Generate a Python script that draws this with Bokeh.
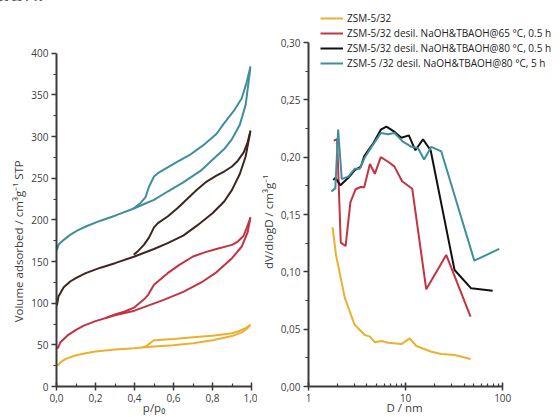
from bokeh.plotting import figure
from bokeh.layouts import row
from bokeh.models import (Range1d, FixedTicker, LogTicker, CustomJSTickFormatter,
                          Legend, LegendItem, Div)
from bokeh.embed import file_html
from bokeh.resources import INLINE

# ---------------- data: isotherms (left) ----------------
y_ads_p = [0.005, 0.02, 0.05, 0.10, 0.15, 0.20, 0.30, 0.40, 0.45, 0.50, 0.60, 0.70, 0.80, 0.90, 0.95, 0.98, 0.995]
y_ads_v = [25, 29, 33.5, 37.5, 40, 42, 44.5, 46, 47, 48, 49.5, 52, 55.5, 60.5, 65, 70, 74]
y_des_p = [0.995, 0.97, 0.93, 0.90, 0.80, 0.70, 0.60, 0.50, 0.46, 0.44]
y_des_v = [74, 70, 66, 64, 61, 59, 57, 55.5, 48.5, 47]

r_ads_p = [0.005, 0.02, 0.055, 0.10, 0.14, 0.20, 0.30, 0.40, 0.48, 0.55, 0.65, 0.75, 0.82, 0.90, 0.95, 0.98, 0.995]
r_ads_v = [45.5, 53, 61, 68, 73, 78.5, 85.5, 91, 98, 104, 113.5, 126, 137, 154, 168, 185, 203]
r_des_p = [0.995, 0.98, 0.96, 0.93, 0.90, 0.82, 0.76, 0.70, 0.63, 0.57, 0.50, 0.47, 0.455, 0.40, 0.35, 0.30, 0.25]
r_des_v = [203, 193, 181, 174, 170, 165, 161, 156, 146, 136, 122, 110, 106, 95, 90, 86.5, 82]

b_ads_p = [0.002, 0.01, 0.037, 0.07, 0.106, 0.15, 0.226, 0.30, 0.40, 0.50, 0.57, 0.65, 0.72, 0.80, 0.86, 0.90, 0.94, 0.97, 0.995]
b_ads_v = [97, 108, 119, 126, 131, 136, 142.6, 148, 156, 165, 172, 181, 193, 208, 222, 236, 255, 276, 307]
b_des_p = [0.995, 0.98, 0.96, 0.93, 0.90, 0.86, 0.82, 0.77, 0.72, 0.67, 0.62, 0.57, 0.52, 0.50, 0.475, 0.448, 0.42, 0.396]
b_des_v = [307, 293, 281, 271, 264, 258, 253, 246, 236, 225, 214, 204, 196, 191, 179, 170, 163, 158]

t_ads_p = [0.002, 0.01, 0.037, 0.07, 0.106, 0.15, 0.226, 0.30, 0.39, 0.45, 0.50, 0.57, 0.65, 0.74, 0.80, 0.86, 0.90, 0.94, 0.97, 0.995]
t_ads_v = [164, 170, 176, 182, 187, 192, 199, 205, 213, 219, 224, 234, 245, 259, 272, 285, 297, 314, 338, 384]
t_des_p = [0.995, 0.975, 0.95, 0.91, 0.86, 0.82, 0.75, 0.69, 0.63, 0.57, 0.52, 0.50, 0.475, 0.456, 0.43, 0.396]
t_des_v = [384, 365, 346, 331, 316, 303, 289, 279, 271, 263, 256, 252, 240, 227, 220, 214]

# ---------------- data: pore size distributions (right) ----------------
y_D = [1.77, 1.92, 2.37, 2.89, 3.0, 3.81, 4.29, 4.82, 5.65, 6.6, 9.06, 11.0, 12.9, 18.4, 23.3, 31.9, 46.6]
y_dv = [0.1388, 0.1147, 0.077, 0.057, 0.0536, 0.0449, 0.0435, 0.0385, 0.0397, 0.0382, 0.037, 0.042, 0.0353, 0.0303, 0.0283, 0.0275, 0.024]

r_D = [1.82, 1.97, 2.15, 2.41, 2.70, 3.05, 3.45, 3.75, 4.29, 4.82, 5.55, 6.6, 7.65, 9.2, 11.7, 16.3, 26.2, 46.6]
r_dv = [0.2144, 0.2156, 0.1255, 0.1225, 0.1605, 0.172, 0.174, 0.1737, 0.194, 0.1855, 0.200, 0.196, 0.192, 0.179, 0.1725, 0.0848, 0.1147, 0.061]

b_D = [1.80, 1.89, 2.13, 2.57, 3.0, 3.46, 3.75, 4.64, 5.55, 6.35, 7.7, 9.05, 10.8, 12.6, 15.1, 18.1, 31.9, 47.3, 78.8]
b_dv = [0.180, 0.182, 0.1755, 0.182, 0.1888, 0.1917, 0.201, 0.212, 0.224, 0.2266, 0.222, 0.217, 0.219, 0.206, 0.2155, 0.206, 0.1016, 0.0856, 0.0836]

t_D = [1.72, 1.89, 2.02, 2.20, 2.57, 3.0, 3.38, 3.81, 4.46, 5.55, 6.6, 7.7, 9.4, 11.5, 13.4, 15.5, 18.4, 23.3, 51, 92]
t_dv = [0.170, 0.173, 0.224, 0.181, 0.183, 0.190, 0.190, 0.200, 0.209, 0.221, 0.220, 0.221, 0.2135, 0.209, 0.208, 0.198, 0.209, 0.205, 0.1097, 0.120]

labels = ["ZSM-5/32",
          "ZSM-5/32 desil. NaOH&TBAOH@65 \u00b0C, 0.5 h",
          "ZSM-5/32 desil. NaOH&TBAOH@80 \u00b0C, 0.5 h",
          "ZSM-5 /32 desil. NaOH&TBAOH@80 \u00b0C, 5 h"]

p_ticks = [0.0, 0.2, 0.4, 0.6, 0.8, 1.0]
p_minor = [0.1, 0.3, 0.5, 0.7, 0.9]
v_ticks = [0, 50, 100, 150, 200, 250, 300, 350, 400]
v_minor = [25, 75, 125, 175, 225, 275, 325, 375]
dv_ticks = [0.0, 0.05, 0.10, 0.15, 0.20, 0.25, 0.30]
dv_minor = [0.025, 0.075, 0.125, 0.175, 0.225, 0.275]

YEL = "#EBB02E"
RED = "#C23441"
BRN = "#3D2622"
BLK = "#111111"
TEAL = "#3F8E9D"
AX = "#3a3a3a"
FONT = "Open Sans"
NB = "\u00a0"


def style_axes(p):
    for ax in (p.xaxis[0], p.yaxis[0]):
        ax.axis_line_width = 2
        ax.axis_line_color = AX
        ax.major_tick_line_color = AX
        ax.minor_tick_line_color = AX
        ax.major_tick_line_width = 1.5
        ax.minor_tick_line_width = 1.2
        ax.major_label_text_font = FONT
        ax.major_label_text_font_size = "10px"
        ax.major_label_text_color = "#404040"
        ax.axis_label_text_font = FONT
        ax.axis_label_text_font_size = "11.5px"
        ax.axis_label_text_font_style = "normal"
        ax.axis_label_text_color = "#404040"
    p.xaxis.major_tick_in = 4
    p.xaxis.major_tick_out = 4
    p.xaxis.minor_tick_in = 3
    p.xaxis.minor_tick_out = 0
    p.xaxis.major_label_standoff = 3
    p.xaxis.axis_label_standoff = -5
    p.yaxis.major_tick_in = 0
    p.yaxis.major_tick_out = 5
    p.yaxis.minor_tick_in = 0
    p.yaxis.minor_tick_out = 3
    p.yaxis.major_label_standoff = 3
    p.xgrid.visible = False
    p.ygrid.visible = False
    p.outline_line_color = None


# ---------------- left figure ----------------
p1 = figure(width=257, height=417, output_backend="svg", toolbar_location=None,
            x_range=Range1d(0, 1), y_range=Range1d(0, 400 * 386 / 344),
            min_border_left=56, min_border_right=6, min_border_top=0, min_border_bottom=31)
style_axes(p1)
p1.xaxis.ticker = FixedTicker(ticks=p_ticks, minor_ticks=p_minor)
p1.yaxis.ticker = FixedTicker(ticks=v_ticks, minor_ticks=v_minor)
p1.yaxis.bounds = (0, 400)
p1.xaxis.formatter = CustomJSTickFormatter(code="return tick.toFixed(1).replace('.', ',')")
p1.yaxis.axis_label = "Volume adsorbed / cm\u00b3g\u207b\u00b9 STP" + NB * 28
p1.yaxis.axis_label_standoff = 2
p1.xaxis.axis_label = "p/p\u2080"

for ap, av, dp, dv, c in [(y_ads_p, y_ads_v, y_des_p, y_des_v, YEL),
                          (r_ads_p, r_ads_v, r_des_p, r_des_v, RED),
                          (b_ads_p, b_ads_v, b_des_p, b_des_v, BRN),
                          (t_ads_p, t_ads_v, t_des_p, t_des_v, TEAL)]:
    p1.line(ap, av, line_color=c, line_width=2)
    p1.line(dp, dv, line_color=c, line_width=2)

# ---------------- right figure ----------------
p2 = figure(width=303, height=417, output_backend="svg", toolbar_location=None,
            x_axis_type="log", x_range=Range1d(1, 10 ** (2 * 253 / 195)),
            y_range=Range1d(0, 0.30 * 374 / 344),
            min_border_left=50, min_border_right=0, min_border_top=12, min_border_bottom=31)
style_axes(p2)
p2.xaxis.ticker = LogTicker(mantissas=[1], num_minor_ticks=10)
p2.xaxis.bounds = (1, 100)
p2.xaxis.formatter = CustomJSTickFormatter(code="return Math.round(tick).toString()")
p2.yaxis.ticker = FixedTicker(ticks=dv_ticks, minor_ticks=dv_minor)
p2.yaxis.bounds = (0, 0.30)
p2.yaxis.formatter = CustomJSTickFormatter(code="return tick.toFixed(2).replace('.', ',')")
p2.yaxis.axis_label = "dV/dlogD / cm\u00b3g\u207b\u00b9" + NB * 15
p2.yaxis.axis_label_standoff = 2
p2.xaxis.axis_label = "D / nm" + NB * 20

ry = p2.line(y_D, y_dv, line_color=YEL, line_width=2)
rr = p2.line(r_D, r_dv, line_color=RED, line_width=2)
rb = p2.line(b_D, b_dv, line_color=BLK, line_width=2)
rt = p2.line(t_D, t_dv, line_color=TEAL, line_width=2)

legend = Legend(items=[LegendItem(label=labels[0], renderers=[ry]),
                       LegendItem(label=labels[1], renderers=[rr]),
                       LegendItem(label=labels[2], renderers=[rb]),
                       LegendItem(label=labels[3], renderers=[rt])],
                location=(12, 316), orientation="vertical",
                background_fill_alpha=0, border_line_alpha=0,
                margin=0, padding=0, spacing=1,
                glyph_width=23, glyph_height=14, label_height=14, label_standoff=4,
                label_text_font=FONT, label_text_font_size="10px", label_text_color="#222222")
p2.add_layout(legend)

# fragment of the surrounding page text, cut by the top edge
frag = Div(text='<span style="position:absolute; top:-14px; left:-1px; font-family:\'Open Sans\'; '
                'font-size:19px; line-height:19px; color:#222; white-space:nowrap;">aOH.</span>',
           width=0, height=0, margin=0)

layout = row(frag, p1, p2)
open("out.html", "w").write(file_html(layout, INLINE))
